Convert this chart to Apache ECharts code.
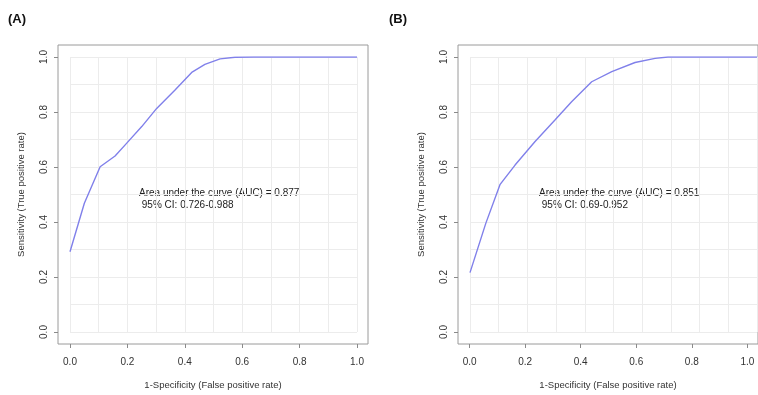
<!DOCTYPE html>
<html>
<head>
<meta charset="utf-8">
<script src="https://cdn.jsdelivr.net/npm/echarts@6/dist/echarts.min.js"></script>
<style>
html,body{margin:0;padding:0;background:#fff;}
#chart{width:758px;height:395px;}
</style>
</head>
<body>
<div id="chart"></div>
<script>
// ROC curve A: false positive rate / true positive rate
const fprA = [0, 0.05, 0.105, 0.157, 0.197, 0.25, 0.302, 0.366, 0.424, 0.47, 0.523, 0.575, 0.64, 1.0];
const tprA = [0.292, 0.468, 0.601, 0.64, 0.686, 0.747, 0.813, 0.88, 0.944, 0.973, 0.993, 0.999, 1.0, 1.0];
// ROC curve B
const fprB = [0, 0.055, 0.105, 0.157, 0.226, 0.296, 0.354, 0.424, 0.494, 0.575, 0.645, 0.69, 1.0];
const tprB = [0.216, 0.395, 0.537, 0.607, 0.692, 0.771, 0.837, 0.91, 0.947, 0.98, 0.995, 1.0, 1.0];
const tickValues = [0, 0.2, 0.4, 0.6, 0.8, 1.0];
const panelLabels = ['(A)', '(B)'];
const aucText = ['Area under the curve (AUC) = 0.877', 'Area under the curve (AUC) = 0.851'];
const ciText = [' 95% CI: 0.726-0.988', ' 95% CI: 0.69-0.952'];
const xTitle = '1-Specificity (False positive rate)';
const yTitle = 'Sensitivity (True positive rate)';

const FONT = '"Liberation Sans", Arial, sans-serif';
const chart = echarts.init(document.getElementById('chart'), null, {renderer: 'canvas'});

function pairs(xs, ys) { return xs.map((x, i) => [x, ys[i]]); }

const dataGrids = [
  {left: 70, top: 57, width: 287, height: 275},
  {left: 470, top: 57, width: 287, height: 275}
];
const boxGrids = [
  {left: 58, top: 45, width: 310, height: 299, show: true, borderColor: '#9a9a9a', borderWidth: 1, backgroundColor: 'transparent'},
  {left: 458, top: 45, width: 310, height: 299, show: true, borderColor: '#9a9a9a', borderWidth: 1, backgroundColor: 'transparent'}
];
// box extents in data units (R's 4% padding)
const xMinBox = -12 / 287, xMaxBox = 1 + 11 / 287;
const yMinBox = -12 / 275, yMaxBox = 1 + 12 / 275;

const xAxes = [], yAxes = [];
const gridLine = {show: true, lineStyle: {color: '#ececec', width: 1}};
[0, 1].forEach(g => {
  xAxes.push({type: 'value', gridIndex: g, min: 0, max: 1, interval: 0.1,
    axisLine: {show: false, onZero: false}, axisTick: {show: false}, axisLabel: {show: false}, splitLine: gridLine});
  yAxes.push({type: 'value', gridIndex: g, min: 0, max: 1, interval: 0.1,
    axisLine: {show: false, onZero: false}, axisTick: {show: false}, axisLabel: {show: false}, splitLine: gridLine});
});
[2, 3].forEach(g => {
  xAxes.push({type: 'value', gridIndex: g, min: xMinBox, max: xMaxBox, position: 'bottom',
    axisLine: {show: false, onZero: false},
    axisTick: {show: true, inside: false, length: 4, customValues: tickValues, lineStyle: {color: '#8a8a8a', width: 1}},
    axisLabel: {show: true, margin: 13, fontSize: 10, color: '#333', fontFamily: FONT, customValues: tickValues,
      formatter: v => v.toFixed(1)},
    splitLine: {show: false},
    name: xTitle, nameLocation: 'middle', nameGap: 36,
    nameTextStyle: {fontSize: 9.5, color: '#333', fontFamily: FONT}});
  yAxes.push({type: 'value', gridIndex: g, min: yMinBox, max: yMaxBox, position: 'left',
    axisLine: {show: false, onZero: false},
    axisTick: {show: true, inside: false, length: 4, customValues: tickValues, lineStyle: {color: '#8a8a8a', width: 1}},
    axisLabel: {show: true, rotate: 90, margin: 9, fontSize: 10, color: '#333', fontFamily: FONT, customValues: tickValues,
      formatter: v => v.toFixed(1)},
    splitLine: {show: false},
    name: yTitle, nameLocation: 'middle', nameGap: 32, nameRotate: 90,
    nameTextStyle: {fontSize: 9.5, color: '#333', fontFamily: FONT}});
});

const lineStyle = {color: '#8080ea', width: 1.4};
const option = {
  animation: false,
  backgroundColor: '#fff',
  grid: [dataGrids[0], dataGrids[1], boxGrids[0], boxGrids[1]],
  xAxis: xAxes,
  yAxis: yAxes,
  series: [
    {type: 'line', xAxisIndex: 0, yAxisIndex: 0, data: pairs(fprA, tprA), showSymbol: false, lineStyle: lineStyle, silent: true},
    {type: 'line', xAxisIndex: 1, yAxisIndex: 1, data: pairs(fprB, tprB), showSymbol: false, lineStyle: lineStyle, silent: true}
  ],
  graphic: [
    {type: 'text', left: 8, top: 13, style: {text: panelLabels[0], font: 'bold 13px ' + FONT, fill: '#111'}},
    {type: 'text', left: 389, top: 13, style: {text: panelLabels[1], font: 'bold 13px ' + FONT, fill: '#111'}},
    {type: 'text', left: 139, top: 187, style: {text: aucText[0] + '\n' + ciText[0], font: '10px ' + FONT, fill: '#222', lineHeight: 12}},
    {type: 'text', left: 539, top: 187, style: {text: aucText[1] + '\n' + ciText[1], font: '10px ' + FONT, fill: '#222', lineHeight: 12}}
  ]
};
chart.setOption(option);
</script>
</body>
</html>
